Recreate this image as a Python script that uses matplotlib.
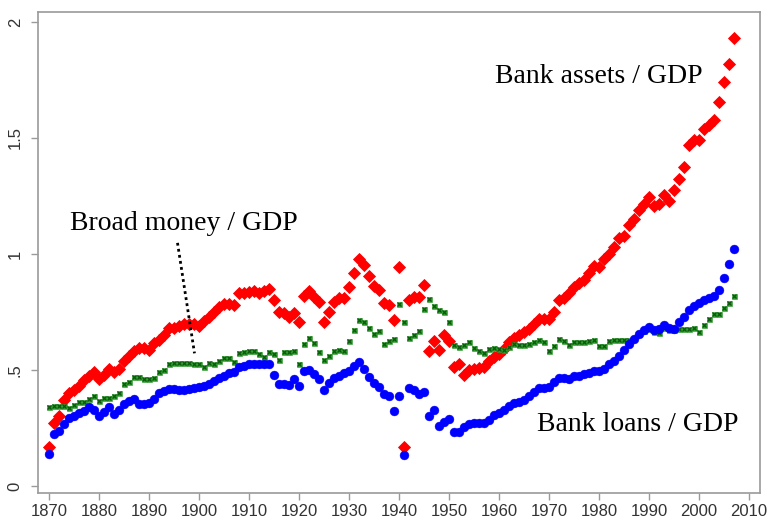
import numpy as np
import matplotlib
matplotlib.use("Agg")
import matplotlib.pyplot as plt

years = list(range(1870, 2008))

bank_assets = [
    0.17, 0.27, 0.30, 0.37, 0.40, 0.415, 0.43, 0.455, 0.476, 0.49,
    0.46, 0.48, 0.505, 0.49, 0.505, 0.54, 0.56, 0.58, 0.595, 0.595,
    0.585, 0.615, 0.63, 0.65, 0.68, 0.68, 0.69, 0.70, 0.70, 0.70,
    0.69, 0.71, 0.73, 0.75, 0.77, 0.785, 0.785, 0.78, 0.83, 0.83,
    0.835, 0.84, 0.83, 0.84, 0.85, 0.80, 0.75, 0.745, 0.73, 0.745,
    0.705, 0.82, 0.84, 0.815, 0.795, 0.705, 0.75, 0.795, 0.81, 0.81,
    0.858, 0.917, 0.977, 0.953, 0.906, 0.863, 0.844, 0.79, 0.78, 0.715,
    0.944, 0.17, 0.80, 0.815, 0.815, 0.867, 0.584, 0.625, 0.587, 0.652,
    0.625, 0.515, 0.524, 0.48, 0.498, 0.505, 0.51, 0.512, 0.538, 0.558,
    0.57, 0.59, 0.62, 0.64, 0.652, 0.662, 0.677, 0.70, 0.72, 0.72,
    0.72, 0.748, 0.80, 0.81, 0.83, 0.858, 0.877, 0.89, 0.92, 0.948,
    0.944, 0.977, 1.00, 1.03, 1.07, 1.077, 1.124, 1.149, 1.19, 1.216,
    1.246, 1.206, 1.216, 1.253, 1.23, 1.278, 1.325, 1.373, 1.468, 1.49,
    1.49, 1.54, 1.557, 1.578, 1.654, 1.74, 1.82, 1.93,
]

bank_loans = [
    0.137, 0.226, 0.237, 0.269, 0.293, 0.30, 0.315, 0.323, 0.34, 0.326,
    0.30, 0.319, 0.34, 0.312, 0.326, 0.355, 0.366, 0.376, 0.355, 0.355,
    0.358, 0.376, 0.40, 0.41, 0.419, 0.419, 0.415, 0.415, 0.419, 0.424,
    0.426, 0.43, 0.44, 0.452, 0.466, 0.476, 0.486, 0.49, 0.512, 0.519,
    0.524, 0.524, 0.524, 0.527, 0.527, 0.48, 0.438, 0.44, 0.435, 0.462,
    0.433, 0.495, 0.50, 0.484, 0.462, 0.415, 0.443, 0.466, 0.476, 0.486,
    0.495, 0.519, 0.533, 0.505, 0.472, 0.443, 0.426, 0.395, 0.39, 0.323,
    0.39, 0.133, 0.424, 0.412, 0.398, 0.405, 0.30, 0.329, 0.258, 0.276,
    0.29, 0.233, 0.233, 0.255, 0.266, 0.272, 0.272, 0.272, 0.286, 0.305,
    0.315, 0.329, 0.343, 0.358, 0.362, 0.372, 0.39, 0.405, 0.424, 0.424,
    0.426, 0.448, 0.466, 0.466, 0.462, 0.476, 0.476, 0.483, 0.486, 0.495,
    0.495, 0.505, 0.524, 0.54, 0.562, 0.587, 0.612, 0.634, 0.655, 0.672,
    0.687, 0.672, 0.675, 0.695, 0.68, 0.675, 0.705, 0.73, 0.758, 0.777,
    0.787, 0.80, 0.81, 0.82, 0.844, 0.898, 0.958, 1.02,
]

broad_money = [
    0.34, 0.345, 0.345, 0.345, 0.338, 0.348, 0.362, 0.362, 0.376, 0.39,
    0.366, 0.38, 0.38, 0.386, 0.40, 0.438, 0.448, 0.472, 0.47, 0.462,
    0.462, 0.465, 0.49, 0.50, 0.524, 0.53, 0.53, 0.53, 0.53, 0.524,
    0.527, 0.512, 0.53, 0.524, 0.538, 0.552, 0.552, 0.533, 0.572, 0.579,
    0.58, 0.58, 0.57, 0.558, 0.579, 0.567, 0.544, 0.576, 0.579, 0.58,
    0.527, 0.612, 0.636, 0.616, 0.576, 0.545, 0.562, 0.584, 0.587, 0.58,
    0.627, 0.672, 0.717, 0.708, 0.681, 0.655, 0.667, 0.612, 0.624, 0.634,
    0.784, 0.705, 0.638, 0.652, 0.67, 0.763, 0.808, 0.777, 0.758, 0.752,
    0.705, 0.61, 0.598, 0.61, 0.62, 0.595, 0.58, 0.572, 0.59, 0.595,
    0.59, 0.588, 0.60, 0.612, 0.607, 0.61, 0.612, 0.62, 0.63, 0.62,
    0.584, 0.605, 0.634, 0.627, 0.61, 0.62, 0.62, 0.62, 0.625, 0.63,
    0.605, 0.605, 0.627, 0.63, 0.63, 0.63, 0.63, 0.64, 0.655, 0.67,
    0.677, 0.662, 0.658, 0.681, 0.672, 0.672, 0.675, 0.675, 0.677, 0.68,
    0.662, 0.695, 0.72, 0.74, 0.742, 0.767, 0.787, 0.82,
]

x_ticks = list(range(1870, 2011, 10))
y_ticks = [0, 0.5, 1, 1.5, 2]
y_tick_labels = ["0", ".5", "1", "1.5", "2"]

labels = {
    "assets": "Bank assets / GDP",
    "money": "Broad money / GDP",
    "loans": "Bank loans / GDP",
}

fig = plt.figure(figsize=(7.68, 5.22), dpi=100)
W, H = 768, 522
ax = fig.add_axes([38 / W, (H - 493) / H, (760 - 38) / W, (493 - 12) / H])

ax.plot(years, bank_assets, linestyle="none", marker="D", ms=5.9,
        color="#ff0000", mec="#ff0000", mew=0.6, zorder=3)
ax.plot(years, broad_money, linestyle="none", marker="s", ms=3.6,
        color="#2e9a2e", mec="#2e9a2e", mew=0.4, zorder=4)
ax.plot(years, broad_money, linestyle="none", marker="x", ms=3.0,
        color="#0b5a0b", mew=0.9, zorder=5)
ax.plot(years, bank_loans, linestyle="none", marker="o", ms=6.4,
        color="#0000ff", mec="#0000ff", mew=0.3, zorder=6)

ax.set_xlim(1867.8, 2012.2)
ax.set_ylim(-0.030, 2.043)

ax.set_xticks(x_ticks)
ax.set_xticklabels([str(v) for v in x_ticks])
ax.set_yticks(y_ticks)
ax.set_yticklabels(y_tick_labels, rotation=90, va="center")

for s in ax.spines.values():
    s.set_color("#9a9a9a")
    s.set_linewidth(1.2)

ax.tick_params(axis="both", direction="out", length=5, width=1.0,
               color="#9a9a9a", labelcolor="#333333", labelsize=12)
ax.tick_params(axis="x", pad=3)
ax.tick_params(axis="y", pad=6)
for lab in ax.get_xticklabels() + ax.get_yticklabels():
    lab.set_family(["Liberation Sans", "DejaVu Sans"])

serif = ["Liberation Serif", "DejaVu Serif"]
ax.text(1959.2, 1.765, labels["assets"], fontsize=20, family=serif,
        ha="left", va="center", color="black")
ax.text(1874.2, 1.13, labels["money"], fontsize=20, family=serif,
        ha="left", va="center", color="black")
ax.text(1967.6, 0.265, labels["loans"], fontsize=20, family=serif,
        ha="left", va="center", color="black")

ax.plot([1895.7, 1899.1], [1.048, 0.572], color="black", linestyle=(0, (1, 1.2)),
        linewidth=2.0, zorder=7)

fig.savefig("out.png", dpi=100, facecolor="white")
